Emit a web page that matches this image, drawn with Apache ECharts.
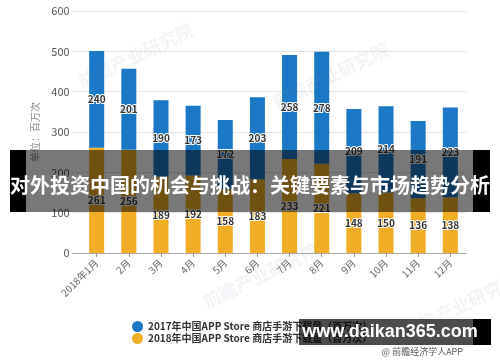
<!DOCTYPE html>
<html>
<head>
<meta charset="utf-8">
<script src="https://cdn.jsdelivr.net/npm/echarts@6/dist/echarts.min.js"></script>
<style>
html,body{margin:0;padding:0;background:#fff;}
#c{width:500px;height:362px;}
</style>
</head>
<body>
<div id="c"></div>
<script>
const categories = ['2018年1月','2月','3月','4月','5月','6月','7月','8月','9月','10月','11月','12月'];
const series2017 = [240, 201, 190, 173, 172, 203, 258, 278, 209, 214, 191, 223];
const series2018 = [261, 256, 189, 192, 158, 183, 233, 221, 148, 150, 136, 138];
const name2017 = '2017年中国APP Store 商店手游下载量（百万次）';
const name2018 = '2018年中国APP Store 商店手游下载量（百万次）';
const yTicks = { min: 0, max: 600, interval: 100 };

const FONT = '"Noto Sans CJK SC","Noto Sans",sans-serif';
const chart = echarts.init(document.getElementById('c'), null, {renderer: 'canvas'});

const labelStyle = {
  show: true, position: 'inside', color: '#333', fontSize: 10, fontWeight: 'bold',
  fontFamily: FONT, textBorderColor: '#fff', textBorderWidth: 2
};

function wm(x, y, text, size) {
  return { type: 'text', left: x, top: y, rotation: Math.PI / 7, z: 50, silent: true,
    style: { text: text, fill: 'rgba(120,140,170,0.10)', font: 'bold ' + size + 'px ' + FONT } };
}

chart.setOption({
  animation: false,
  textStyle: { fontFamily: FONT },
  grid: [
    { left: 80.6, right: 33.6, top: 11, bottom: 109 },
    { left: 72, right: 33.6, top: 11, bottom: 109 }
  ],
  legend: {
    orient: 'vertical', left: 127, top: 316, itemWidth: 11, itemHeight: 11, itemGap: 1,
    icon: 'circle', data: [name2017, name2018],
    textStyle: { color: '#333', fontSize: 10, fontFamily: FONT, fontWeight: 'bold' }
  },
  xAxis: [
    {
      type: 'category', data: categories, gridIndex: 0,
      axisLine: { show: false },
      axisTick: { show: true, alignWithLabel: true, length: 4, lineStyle: { color: '#999' } },
      axisLabel: { rotate: 45, color: '#666', fontSize: 10, margin: 8, interval: 0 }
    },
    {
      type: 'category', data: categories, gridIndex: 1,
      axisLine: { show: true, lineStyle: { color: '#aaa' } },
      axisTick: { show: false }, axisLabel: { show: false }
    }
  ],
  yAxis: [
    {
      type: 'value', gridIndex: 0, min: yTicks.min, max: yTicks.max, interval: yTicks.interval,
      axisLine: { show: false }, axisTick: { show: false }, splitLine: { show: false },
      axisLabel: { color: '#555', fontSize: 11, margin: 11 },
      name: '单位：百万次', nameLocation: 'middle', nameRotate: 90, nameGap: 40,
      nameTextStyle: { color: '#888', fontSize: 10 }
    },
    {
      type: 'value', gridIndex: 1, min: yTicks.min, max: yTicks.max, interval: yTicks.interval,
      axisLine: { show: false }, axisTick: { show: false }, axisLabel: { show: false },
      splitLine: { show: true, lineStyle: { color: '#e3e3e3' } }
    }
  ],
  series: [
    {
      name: name2018, type: 'bar', stack: 'a', data: series2018, barWidth: 15,
      xAxisIndex: 0, yAxisIndex: 0,
      itemStyle: { color: '#f1ad23' }, label: labelStyle
    },
    {
      name: name2017, type: 'bar', stack: 'a', data: series2017, barWidth: 15,
      xAxisIndex: 0, yAxisIndex: 0,
      itemStyle: { color: '#1a78c6' }, label: labelStyle
    }
  ],
  graphic: [
    wm(75, 20, '前瞻产业研究院', 18),
    wm(270, 40, '前瞻产业研究院', 18),
    wm(200, 240, '前瞻产业研究院', 18),
    wm(400, 270, '前瞻产业研究院', 18),
    { type: 'rect', shape: { x: 10, y: 150, width: 16, height: 62 }, style: { fill: '#000' }, z: 100 },
    { type: 'rect', shape: { x: 26, y: 150, width: 447, height: 62 }, style: { fill: 'rgba(0,0,0,0.53)' }, z: 100 },
    { type: 'rect', shape: { x: 473, y: 150, width: 17, height: 62 }, style: { fill: '#000' }, z: 100 },
    { type: 'text', x: 250, y: 185, z: 101,
      style: { text: '对外投资中国的机会与挑战：关键要素与市场趋势分析', fill: '#fff',
        font: 'bold 20px ' + FONT, textAlign: 'center', textVerticalAlign: 'middle' } },
    { type: 'rect', shape: { x: 299, y: 319, width: 174, height: 26 }, style: { fill: 'rgba(0,0,0,0.7)' }, z: 100 },
    { type: 'rect', shape: { x: 473, y: 319, width: 18, height: 26 }, style: { fill: '#000' }, z: 100 },
    { type: 'text', x: 390, y: 332, z: 101,
      style: { text: 'www.daikan365.com', fill: '#fff',
        font: 'bold 18px "Liberation Sans", Arial, sans-serif', textAlign: 'center', textVerticalAlign: 'middle' } },
    { type: 'text', x: 463, y: 352, z: 101,
      style: { text: '@ 前瞻经济学人APP', fill: '#555',
        font: '9px ' + FONT, textAlign: 'right', textVerticalAlign: 'middle' } }
  ]
});
</script>
</body>
</html>
